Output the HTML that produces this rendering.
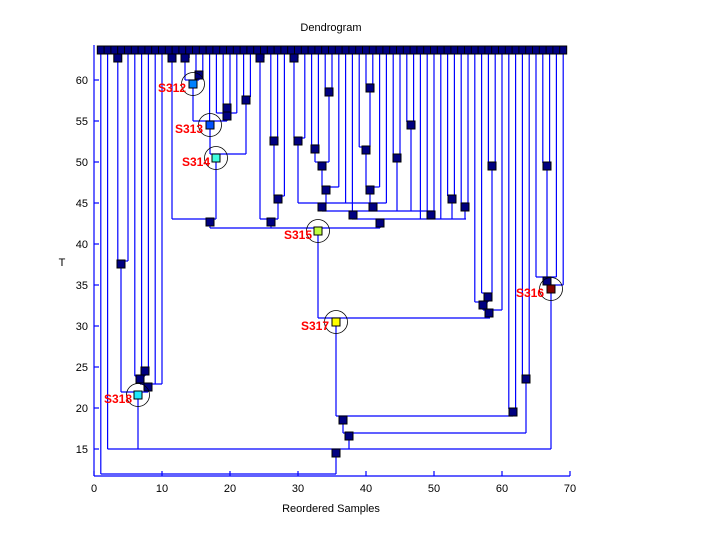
<!DOCTYPE html>
<html><head><meta charset="utf-8"><style>
html,body{margin:0;padding:0;background:#fff}
svg{display:block;font-family:"Liberation Sans",sans-serif}
</style></head><body>
<svg id="s" width="720" height="540" viewBox="0 0 720 540" xmlns="http://www.w3.org/2000/svg">
<rect width="720" height="540" fill="#fff"/>
<text x="331" y="31" font-size="11" text-anchor="middle">Dendrogram</text>
<text x="331" y="512" font-size="11" text-anchor="middle">Reordered Samples</text>
<text x="62" y="266" font-size="11" text-anchor="middle">T</text>
<g id="lines" stroke="#0000ff" stroke-width="1.2" fill="none"></g>
<g id="axes" stroke="#000" stroke-width="1" fill="none"></g>
<g id="nodes"></g>
<g id="lab" font-size="12" font-weight="bold" fill="#ff0000"></g>
</svg>
<script>
var NS="http://www.w3.org/2000/svg";
function el(p,t,a){var e=document.createElementNS(NS,t);for(var k in a)e.setAttribute(k,a[k]);document.getElementById(p).appendChild(e);return e;}
function L(x1,y1,x2,y2){el("lines","line",{x1:x1,y1:y1,x2:x2,y2:y2});}
function V(x,a,b){L(x,a,x,b);} function H(y,a,b){L(a,y,b,y);}
function N(x,y,c){el("nodes","rect",{x:x-4,y:y-4,width:8,height:8,fill:c||"#000080",stroke:"#000","stroke-width":1});}
function C(x,y,c,t,tx,ty){el("nodes","circle",{cx:x,cy:y,r:11.5,fill:"none",stroke:"#000","stroke-width":0.8});N(x,y,c);var e=el("lab","text",{x:tx,y:ty});e.textContent=t;}
// axes
L(94,45,94,476);L(94,476,570,476);
var yt=[[60,80],[55,121],[50,162],[45,203],[40,244],[35,285],[30,326],[25,367],[20,408],[15,449]];
yt.forEach(function(t){L(94,t[1],99,t[1]);var e=el("lab","text",{x:88,y:t[1]+4,"text-anchor":"end","font-size":11,"font-weight":"normal",fill:"#000"});e.textContent=t[0];});
for(var i=0;i<=7;i++){var x=94+68*i;L(x,476,x,471);var e=el("lab","text",{x:x,y:492,"text-anchor":"middle","font-size":11,"font-weight":"normal",fill:"#000"});e.textContent=i*10;}
document.querySelectorAll("#axes line").length;
// leaf endpoints
var ends=[474,449,58,58,261,376,371,371,384,384,58,58,58,58,72,72,121,113,105,105,113,97,97,58,58,138,138,196,58,58,138,145,145,88,88,187,203,211,147,84,84,187,203,155,155,122,122,219,219,211,219,196,196,203,203,302,293,163,163,310,409,409,376,376,277,163,163,277,285];
function lx(k){return 94+6.8*k;}
for(var k=1;k<=69;k++)V(lx(k),50,ends[k-1]);
// internal links
H(58,114.4,121.2);V(117.8,58,261);H(261,117.8,128);V(121,264,392);
H(371,141.6,148.4);V(145,371,376);H(376,134.8,145);V(140,379,384);H(384,140,162);V(148,387,392);H(392,121,148);
V(138,395,449);
H(58,168.8,175.6);V(172,58,219);
H(58,182.4,189.2);V(185,58,80);H(72,196,202.8);V(199,75,80);H(80,185,199);V(193,84,121);
H(105,223.2,230);V(227,105,113);H(113,216.4,236.8);V(227,116,121);H(121,193,227);
V(210,121,154);H(97,243.6,250.4);V(246,97,154);H(154,210,246);V(216,158,219);H(219,172,216);V(210,222,228);
H(58,257.2,264);V(260,58,219);H(138,270.8,277.6);V(274,141,196);H(196,274,284.4);V(278,199,219);H(219,260,278);V(271,222,228);
H(58,291.2,298);V(294,58,138);H(138,294,304.8);V(298,141,203);
H(145,311.6,318.4);V(315,149,162);H(88,325.2,332);V(329,92,162);H(162,315,329);V(322,166,187);H(187,322,338.8);V(326,190,203);
H(84,366,372.8);V(370,84,147);H(147,359.2,370);V(366,150,187);H(187,366,379.6);V(370,190,203);
H(203,298,386.4);V(322,207,211);V(373,207,211);
H(155,393.2,400);V(397,158,211);H(122,406.8,413.6);V(411,125,211);H(211,322,434);
V(353,215,219);V(431,215,219);H(196,447.6,454.4);V(452,199,219);H(203,461.2,468);V(465,207,219);
H(219,352,466);V(380,223,228);H(228,210,380);V(318,231,318);
H(163,488.4,495.2);V(492,166,293);H(293,481.6,492);V(488,297,302);H(302,474.8,488);V(483,305,310);H(310,483,502);V(489,313,318);H(318,318,490);
V(336,322,416);H(409,508.8,515.6);V(513,412,416);H(416,336,513);V(343,420,433);
H(376,522.4,529.2);V(526,379,433);H(433,343,526);V(349,436,449);
H(163,542.8,549.6);V(547,166,277);H(277,536,556.4);V(547,281,285);H(285,547,563.2);V(551,289,449);
H(449,107.6,551);V(336,449,474);H(474,100.8,336);
// leaf squares
for(var k=1;k<=69;k++)el("nodes","rect",{x:lx(k)-3.5,y:46,width:7,height:8,fill:"#000080",stroke:"#000","stroke-width":1});
// internal nodes
[[117.8,58],[121,264],[145,371],[140,379],[148,387],[172,58],[185,58],[199,75],[227,108],[227,116],[246,100],[210,222],[260,58],[274,141],[278,199],[271,222],[294,58],[298,141],[315,149],[329,92],[322,166],[326,190],[322,207],[370,88],[366,150],[370,190],[373,207],[397,158],[411,125],[353,215],[431,215],[452,199],[465,207],[380,223],[492,166],[488,297],[483,305],[489,313],[513,412],[343,420],[526,379],[349,436],[547,166],[547,281],[336,453]].forEach(function(p){N(p[0],p[1]);});
C(193,84,"#0080ff","S312",158,92);
C(210,125,"#0050ff","S313",175,133);
C(216,158,"#40ffe0","S314",182,166);
C(318,231,"#c0ff40","S315",284,239);
C(551,289,"#800000","S316",516,297);
C(336,322,"#ffff00","S317",301,330);
C(138,395,"#20e8ff","S318",104,403);
</script>
</body></html>
